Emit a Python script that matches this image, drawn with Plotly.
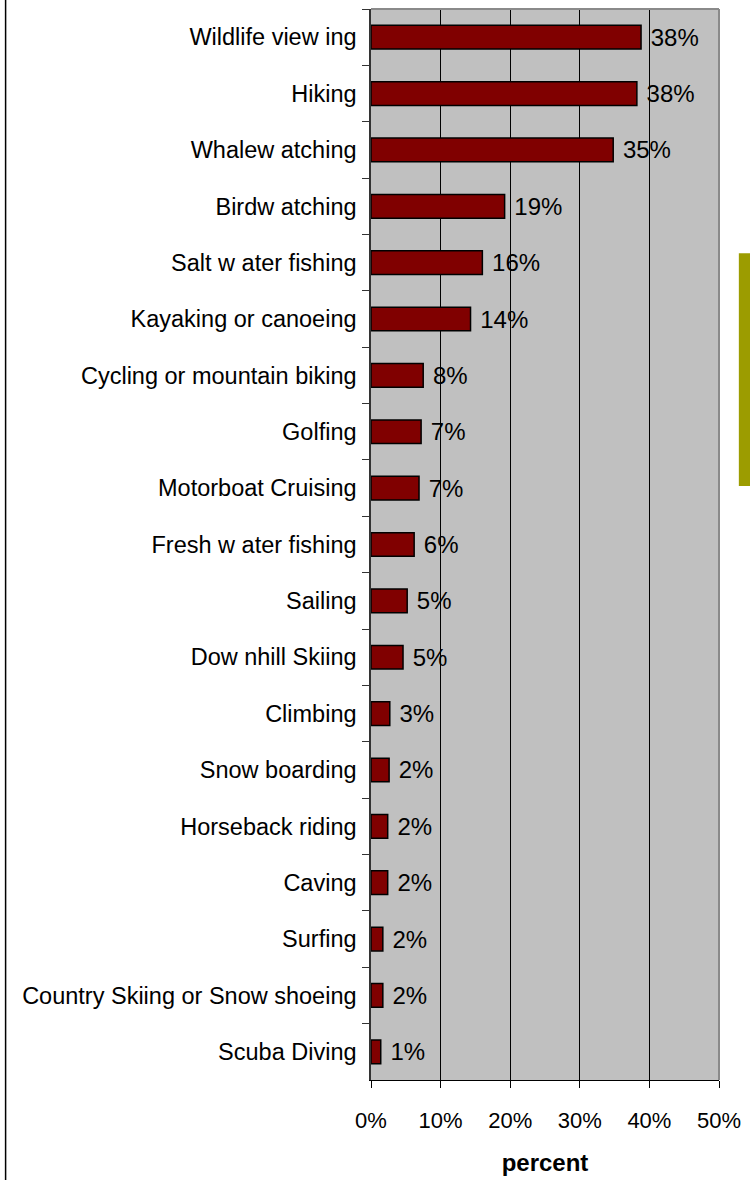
import plotly.graph_objects as go

categories = [
    "Wildlife view ing", "Hiking", "Whalew atching", "Birdw atching",
    "Salt w ater fishing", "Kayaking or canoeing", "Cycling or mountain biking",
    "Golfing", "Motorboat Cruising", "Fresh w ater fishing", "Sailing",
    "Dow nhill Skiing", "Climbing", "Snow boarding", "Horseback riding",
    "Caving", "Surfing", "Country Skiing or Snow shoeing", "Scuba Diving",
]
values = [38.8, 38.2, 34.8, 19.2, 16.0, 14.3, 7.5, 7.2, 6.9, 6.2, 5.2, 4.6,
          2.7, 2.6, 2.4, 2.4, 1.7, 1.7, 1.4]
value_labels = ["38%", "38%", "35%", "19%", "16%", "14%", "8%", "7%", "7%", "6%",
                "5%", "5%", "3%", "2%", "2%", "2%", "2%", "2%", "1%"]
x_ticks = [0, 10, 20, 30, 40, 50]
x_tick_labels = ["0%", "10%", "20%", "30%", "40%", "50%"]

FONT = "Liberation Sans, Arial, sans-serif"

fig = go.Figure(
    go.Bar(
        x=values,
        y=categories,
        orientation="h",
        marker=dict(color="#800000", line=dict(color="black", width=1.5)),
        text=[" " + t for t in value_labels],
        textposition="outside",
        constraintext="none",
        textfont=dict(size=24, color="black", family=FONT),
        cliponaxis=False,
        hoverinfo="x+y",
    )
)

fig.update_layout(
    width=750,
    height=1180,
    autosize=False,
    margin=dict(l=371, r=29, t=9, b=100, pad=0),
    plot_bgcolor="#C0C0C0",
    paper_bgcolor="white",
    bargap=0.58,
    showlegend=False,
    font=dict(family=FONT, color="black"),
    xaxis=dict(
        range=[0, 50],
        tickvals=x_ticks,
        ticktext=x_tick_labels,
        showgrid=True,
        gridcolor="black",
        gridwidth=1,
        zeroline=False,
        showline=True,
        linecolor="black",
        linewidth=1,
        ticks="outside",
        ticklen=7,
        tickcolor="black",
        tickfont=dict(size=22, family=FONT, color="black"),
        ticklabelstandoff=14,
        title=dict(text="<b>percent</b>", font=dict(size=24, family=FONT, color="black"), standoff=21),
        fixedrange=True,
    ),
    yaxis=dict(
        categoryorder="array",
        categoryarray=categories,
        autorange="reversed",
        showgrid=False,
        zeroline=False,
        showline=True,
        linecolor="#333333",
        linewidth=1.5,
        ticks="outside",
        tickson="boundaries",
        ticklen=7,
        tickcolor="#333333",
        tickfont=dict(size=23.5, family=FONT, color="black"),
        ticklabelstandoff=8,
        fixedrange=True,
    ),
    shapes=[
        # plot area top and right border (gray)
        dict(type="line", xref="paper", yref="paper", x0=0, x1=1, y0=1, y1=1,
             line=dict(color="#8a8a8a", width=2), layer="above"),
        dict(type="line", xref="paper", yref="paper", x0=1, x1=1, y0=0, y1=1,
             line=dict(color="#8a8a8a", width=2), layer="above"),
        # chart outer border (left edge)
        dict(type="line", xref="paper", yref="paper", x0=-1.05, x1=-1.05, y0=-0.2, y1=1.2,
             line=dict(color="black", width=1.5)),
        # partially visible legend
        dict(type="rect", xref="paper", yref="paper", x0=1.057, x1=1.09, y0=0.5546, y1=0.772,
             fillcolor="#9C9C00", line=dict(width=0)),
    ],
)

fig.write_html("out.html", config={"displayModeBar": False},
               post_script="document.body.style.margin='0';")
